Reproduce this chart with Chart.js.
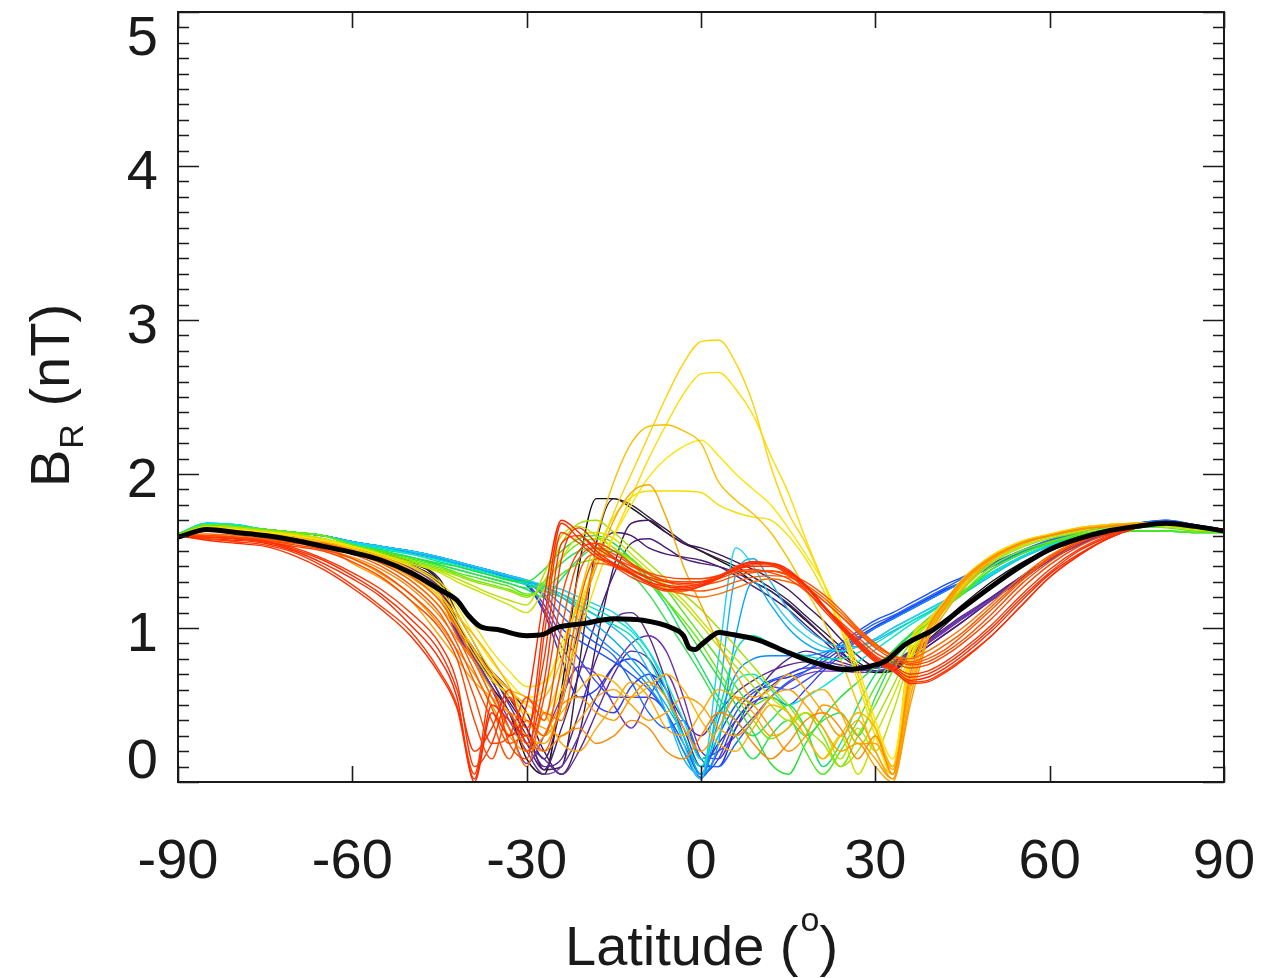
<!DOCTYPE html>
<html>
<head>
<meta charset="utf-8">
<script src="https://cdn.jsdelivr.net/npm/chart.js@4.4.1/dist/chart.umd.min.js"></script>
<style>
html, body { margin: 0; padding: 0; background: #fff; }
</style>
</head>
<body>
<canvas id="chart" width="1278" height="978"></canvas>
<script>
// latitude grid shared by all the coloured profiles
var lats = [-90,-85,-80,-75,-70,-65,-60,-55,-50,-45,-42,-39,-36,-33,-30,-27,-24,-21,-18,-15,-12,-9,-6,-3,0,3,6,9,12,15,18,21,24,27,30,33,36,39,42,45,50,55,60,65,70,75,80,85,90];

// individual B_R profiles (nT), oldest (black) to newest (red)
var k1 = [1.60,1.65,1.64,1.62,1.60,1.57, 1.53,1.49,1.43,1.30,1.05,0.82,0.62,0.45,0.15,0.05, 0.60,1.40,1.84,1.84,1.78,1.70,1.62,1.55,1.50,1.44, 1.38,1.30,1.24,1.15,1.05,0.95,0.85,0.75,0.71,0.72, 0.85,0.95,1.05,1.15, 1.30,1.42,1.51,1.58,1.63,1.66,1.68,1.66,1.63];
var k2 = [1.60,1.65,1.64,1.62,1.60,1.57, 1.53,1.48,1.42,1.32,1.10,0.90,0.70,0.55,0.35,0.08, 0.10,0.75,1.55,1.84,1.80,1.72,1.64,1.56,1.50,1.45, 1.40,1.33,1.26,1.18,1.08,0.98,0.88,0.78,0.72,0.72, 0.82,0.92,1.02,1.12, 1.28,1.40,1.50,1.57,1.62,1.66,1.68,1.66,1.63];
var p1 = [1.60,1.65,1.64,1.62,1.60,1.57, 1.53,1.48,1.41,1.28,1.00,0.85,0.72,0.60,0.45,0.20, 0.05,0.30,0.90,1.40,1.68,1.70,1.62,1.55,1.52,1.48, 1.43,1.38,1.32,1.25,1.15,1.05,0.93,0.82,0.75,0.75, 0.82,0.90,0.98,1.06, 1.20,1.33,1.45,1.55,1.61,1.65,1.68,1.66,1.64];
var p7 = [1.60,1.65,1.64,1.62,1.60,1.57, 1.53,1.48,1.41,1.28,1.04,0.86,0.70,0.52,0.35,0.15, 0.50,1.00,1.45,1.62,1.60,1.52,1.48,1.46,1.44,1.40, 1.34,1.27,1.20,1.12,1.02,0.92,0.82,0.75,0.72,0.73, 0.80,0.88,0.96,1.04, 1.18,1.31,1.44,1.54,1.61,1.65,1.68,1.66,1.64];
var p4 = [1.60,1.65,1.64,1.62,1.60,1.57, 1.53,1.48,1.41,1.27,1.02,0.84,0.66,0.45,0.25,0.08, 0.35,0.70,1.05,1.35,1.55,1.58,1.52,1.45,1.42,1.40, 1.36,1.30,1.24,1.16,1.06,0.95,0.84,0.76,0.72,0.73, 0.80,0.88,0.96,1.04, 1.18,1.31,1.44,1.54,1.61,1.65,1.68,1.66,1.64];
var p2 = [1.60,1.65,1.64,1.62,1.60,1.57, 1.52,1.47,1.40,1.26,0.98,0.82,0.70,0.50,0.30,0.10, 0.15,0.45,0.80,1.05,1.10,0.95,0.65,0.30,0.10,0.25, 0.40,0.55,0.70,0.80,0.85,0.82,0.78,0.75,0.75,0.78, 0.85,0.92,1.00,1.08, 1.20,1.33,1.45,1.55,1.61,1.65,1.68,1.66,1.64];
var p5 = [1.60,1.65,1.64,1.62,1.60,1.57, 1.52,1.46,1.39,1.25,0.97,0.81,0.66,0.45,0.25,0.15, 0.05,0.20,0.45,0.70,0.85,0.80,0.60,0.40,0.30,0.45, 0.58,0.66,0.72,0.76,0.78,0.78,0.76,0.74,0.74,0.77, 0.84,0.91,0.99,1.07, 1.19,1.32,1.45,1.55,1.61,1.65,1.68,1.66,1.64];
var p3 = [1.60,1.65,1.64,1.62,1.60,1.57, 1.52,1.46,1.39,1.24,0.96,0.80,0.62,0.40,0.20,0.05, 0.10,0.30,0.55,0.75,0.90,0.95,0.85,0.55,0.20,0.15, 0.35,0.50,0.62,0.70,0.74,0.74,0.72,0.72,0.74,0.76, 0.84,0.91,0.99,1.07, 1.19,1.32,1.45,1.55,1.61,1.65,1.68,1.66,1.64];
var p6 = [1.60,1.65,1.64,1.62,1.60,1.57, 1.52,1.46,1.39,1.24,0.95,0.78,0.60,0.35,0.12,0.30, 0.55,0.75,0.70,0.50,0.35,0.55,0.70,0.45,0.15,0.20, 0.30,0.42,0.55,0.64,0.70,0.72,0.72,0.71,0.72,0.75, 0.83,0.90,0.98,1.06, 1.18,1.31,1.44,1.54,1.61,1.65,1.68,1.66,1.64];
var b5 = [1.61,1.67,1.66,1.64,1.62,1.60, 1.56,1.53,1.49,1.45,1.42,1.39,1.36,1.33,1.28,1.12, 0.88,0.70,0.50,0.45,0.62,0.70,0.60,0.30,0.05,0.15, 0.40,0.52,0.55,0.50,0.60,0.72,0.82,0.92,1.00,1.06, 1.12,1.18,1.24,1.30, 1.40,1.49,1.56,1.62,1.66,1.68,1.69,1.67,1.64];
var b3 = [1.61,1.67,1.66,1.64,1.62,1.60, 1.56,1.53,1.50,1.46,1.43,1.40,1.37,1.33,1.29,1.15, 0.95,0.80,0.65,0.55,0.55,0.55,0.45,0.20,0.03,0.20, 0.45,0.58,0.62,0.60,0.66,0.74,0.84,0.93,1.00,1.06, 1.12,1.18,1.24,1.30, 1.40,1.49,1.56,1.62,1.66,1.68,1.69,1.67,1.64];
var b2 = [1.61,1.67,1.66,1.64,1.62,1.60, 1.56,1.52,1.49,1.45,1.42,1.39,1.36,1.32,1.28,1.10, 0.80,0.55,0.60,0.75,0.80,0.72,0.55,0.35,0.10,0.10, 0.35,0.55,0.65,0.68,0.72,0.78,0.86,0.94,1.01,1.07, 1.13,1.19,1.25,1.30, 1.40,1.49,1.56,1.62,1.66,1.68,1.69,1.67,1.64];
var b1 = [1.61,1.67,1.66,1.64,1.62,1.60, 1.56,1.53,1.50,1.46,1.43,1.40,1.37,1.34,1.30,1.20, 1.00,0.92,0.85,0.78,0.70,0.60,0.45,0.25,0.05,0.30, 0.50,0.60,0.66,0.70,0.75,0.82,0.90,0.98,1.05,1.10, 1.16,1.22,1.28,1.33, 1.42,1.50,1.57,1.62,1.66,1.68,1.70,1.67,1.64];
var b6 = [1.61,1.67,1.66,1.64,1.62,1.60, 1.56,1.53,1.50,1.46,1.43,1.40,1.37,1.34,1.30,1.22, 1.08,0.98,0.90,0.82,0.65,0.45,0.35,0.40,0.15,0.10, 0.25,0.40,0.55,0.65,0.72,0.80,0.88,0.96,1.03,1.08, 1.14,1.20,1.26,1.32, 1.41,1.50,1.57,1.62,1.66,1.68,1.70,1.67,1.64];
var b4 = [1.61,1.67,1.66,1.64,1.62,1.60, 1.56,1.53,1.50,1.46,1.43,1.40,1.37,1.34,1.31,1.25, 1.15,1.05,0.95,0.85,0.75,0.62,0.45,0.20,0.02,0.40, 0.70,0.80,0.82,0.82,0.82,0.84,0.88,0.94,1.00,1.06, 1.12,1.18,1.24,1.30, 1.40,1.49,1.56,1.62,1.66,1.68,1.69,1.67,1.64];
var c3 = [1.61,1.67,1.66,1.64,1.62,1.60, 1.56,1.53,1.50,1.46,1.43,1.40,1.37,1.34,1.31,1.27, 1.20,1.12,1.02,0.92,0.80,0.66,0.50,0.30,0.05,0.25, 0.95,1.30,1.15,1.00,0.90,0.85,0.85,0.88,0.93,1.00, 1.06,1.12,1.18,1.24, 1.36,1.46,1.54,1.60,1.64,1.66,1.67,1.65,1.64];
var c2 = [1.61,1.68,1.67,1.64,1.62,1.60, 1.55,1.52,1.49,1.45,1.42,1.39,1.36,1.33,1.30,1.27, 1.22,1.15,1.08,1.00,0.90,0.72,0.45,0.15,0.05,0.55, 1.35,1.45,1.30,1.12,1.00,0.92,0.88,0.88,0.92,0.98, 1.04,1.10,1.16,1.22, 1.34,1.45,1.53,1.59,1.63,1.65,1.66,1.65,1.64];
var c1 = [1.61,1.68,1.67,1.64,1.62,1.60, 1.56,1.53,1.50,1.46,1.43,1.40,1.37,1.34,1.31,1.28, 1.25,1.20,1.15,1.10,1.00,0.85,0.60,0.25,0.02,0.80, 1.52,1.40,1.20,1.05,0.95,0.88,0.85,0.88,0.93,1.00, 1.06,1.12,1.18,1.24, 1.36,1.46,1.54,1.60,1.64,1.66,1.67,1.65,1.64];
var t1 = [1.61,1.68,1.67,1.64,1.62,1.60, 1.55,1.51,1.48,1.43,1.40,1.37,1.34,1.31,1.28,1.24, 1.20,1.14,1.08,1.02,0.95,0.80,0.55,0.30,0.10,0.45, 0.85,0.95,0.90,0.85,0.82,0.80,0.80,0.84,0.90,0.97, 1.04,1.10,1.17,1.23, 1.35,1.46,1.54,1.60,1.63,1.65,1.66,1.65,1.64];
var t2 = [1.61,1.68,1.67,1.64,1.62,1.60, 1.55,1.52,1.48,1.44,1.41,1.38,1.35,1.32,1.29,1.26, 1.22,1.17,1.12,1.06,0.98,0.85,0.65,0.40,0.15,0.30, 0.65,0.70,0.60,0.50,0.55,0.62,0.70,0.78,0.86,0.94, 1.02,1.09,1.16,1.23, 1.35,1.46,1.54,1.60,1.63,1.65,1.66,1.65,1.64];
var g2 = [1.61,1.67,1.66,1.64,1.62,1.60, 1.54,1.50,1.46,1.41,1.38,1.35,1.32,1.29,1.25,1.20, 1.32,1.45,1.52,1.50,1.42,1.30,1.15,0.95,0.75,0.55, 0.40,0.30,0.40,0.50,0.35,0.10,0.25,0.50,0.70,0.85, 0.96,1.06,1.15,1.23, 1.38,1.48,1.55,1.60,1.62,1.63,1.63,1.62,1.62];
var g1 = [1.61,1.67,1.66,1.64,1.62,1.60, 1.54,1.50,1.46,1.42,1.40,1.37,1.34,1.31,1.30,1.38, 1.50,1.58,1.60,1.55,1.45,1.32,1.18,1.02,0.85,0.68, 0.50,0.32,0.12,0.05,0.25,0.42,0.55,0.65,0.75,0.85, 0.95,1.05,1.14,1.22, 1.38,1.48,1.55,1.60,1.62,1.63,1.63,1.62,1.62];
var g4 = [1.61,1.67,1.66,1.64,1.62,1.60, 1.54,1.50,1.46,1.41,1.38,1.35,1.32,1.29,1.26,1.30, 1.42,1.50,1.52,1.45,1.35,1.22,1.05,0.88,0.70,0.50, 0.30,0.15,0.30,0.40,0.30,0.40,0.45,0.30,0.55,0.78, 0.92,1.03,1.13,1.22, 1.38,1.48,1.55,1.60,1.62,1.63,1.63,1.62,1.62];
var g3 = [1.61,1.67,1.66,1.64,1.62,1.60, 1.54,1.50,1.45,1.40,1.36,1.33,1.30,1.27,1.22,1.25, 1.35,1.42,1.45,1.50,1.45,1.35,1.25,1.10,0.95,0.80, 0.62,0.50,0.55,0.45,0.20,0.05,0.20,0.40,0.62,0.80, 0.93,1.04,1.14,1.22, 1.38,1.48,1.55,1.60,1.62,1.63,1.63,1.62,1.62];
var g5 = [1.61,1.67,1.66,1.64,1.62,1.60, 1.54,1.49,1.44,1.39,1.35,1.31,1.28,1.25,1.21,1.28, 1.45,1.55,1.58,1.52,1.42,1.30,1.18,1.05,0.90,0.72, 0.55,0.40,0.28,0.35,0.45,0.30,0.10,0.30,0.50,0.72, 0.90,1.02,1.13,1.23, 1.40,1.50,1.56,1.61,1.64,1.66,1.65,1.63,1.62];
var y1 = [1.60,1.66,1.65,1.63,1.61,1.58, 1.53,1.48,1.43,1.38,1.34,1.30,1.27,1.24,1.20,1.30, 1.55,1.68,1.70,1.62,1.52,1.42,1.32,1.22,1.12,1.00, 0.88,0.75,0.62,0.50,0.35,0.25,0.10,0.20,0.40,0.62, 0.85,1.00,1.12,1.25, 1.42,1.52,1.58,1.62,1.65,1.67,1.66,1.64,1.63];
var y3 = [1.60,1.66,1.65,1.63,1.61,1.58, 1.53,1.48,1.42,1.37,1.32,1.27,1.22,1.18,1.15,1.35, 1.60,1.66,1.60,1.52,1.44,1.36,1.26,1.15,1.02,0.88, 0.75,0.62,0.50,0.40,0.45,0.35,0.15,0.35,0.20,0.45, 0.80,0.98,1.12,1.26, 1.43,1.53,1.59,1.63,1.66,1.67,1.66,1.64,1.63];
var y2 = [1.60,1.66,1.65,1.63,1.61,1.58, 1.53,1.48,1.42,1.36,1.30,1.25,1.20,1.15,1.10,1.25, 1.45,1.60,1.62,1.58,1.48,1.38,1.28,1.18,1.05,0.92, 0.80,0.68,0.55,0.45,0.30,0.15,0.30,0.05,0.30,0.55, 0.82,1.00,1.14,1.27, 1.44,1.54,1.60,1.63,1.66,1.67,1.66,1.64,1.63];
var yf = [1.60,1.65,1.64,1.62,1.60,1.57, 1.53,1.48,1.41,1.30,1.18,1.02,0.85,0.72,0.62,0.65, 0.85,1.20,1.50,1.72,1.85,1.89,1.89,1.89,1.88,1.80, 1.75,1.72,1.70,1.60,1.45,1.25,1.00,0.70,0.35,0.10, 0.88,1.04,1.17,1.31, 1.47,1.56,1.61,1.65,1.67,1.68,1.68,1.66,1.64];
var ya = [1.60,1.65,1.64,1.62,1.60,1.57, 1.52,1.46,1.38,1.25,1.10,0.90,0.72,0.60,0.50,0.45, 0.70,1.10,1.45,1.75,2.00,2.25,2.50,2.72,2.86,2.87, 2.72,2.45,2.05,1.75,1.55,1.30,1.05,0.70,0.35,0.10, 0.90,1.05,1.18,1.32, 1.47,1.56,1.61,1.65,1.67,1.68,1.68,1.66,1.64];
var yb = [1.60,1.65,1.64,1.62,1.60,1.57, 1.52,1.45,1.36,1.22,1.05,0.85,0.68,0.55,0.45,0.40, 0.60,0.95,1.30,1.60,1.85,2.10,2.32,2.52,2.65,2.66, 2.55,2.38,2.12,1.88,1.58,1.30,1.00,0.65,0.30,0.05, 0.85,1.02,1.16,1.30, 1.46,1.55,1.60,1.65,1.67,1.68,1.68,1.66,1.64];
var yd = [1.60,1.65,1.64,1.62,1.60,1.57, 1.53,1.47,1.40,1.28,1.14,0.95,0.78,0.65,0.55,0.60, 0.90,1.15,1.40,1.60,1.80,1.98,2.10,2.18,2.22,2.12, 2.00,1.90,1.80,1.65,1.48,1.30,1.05,0.75,0.40,0.15, 0.80,1.00,1.15,1.29, 1.46,1.55,1.60,1.65,1.67,1.68,1.68,1.66,1.64];
var yc = [1.60,1.64,1.63,1.61,1.59,1.56, 1.51,1.44,1.35,1.20,1.02,0.82,0.66,0.58,0.52,0.55, 0.80,1.20,1.60,1.95,2.20,2.31,2.32,2.28,2.20,1.95, 1.83,1.74,1.62,1.45,1.25,1.05,0.80,0.50,0.20,0.05, 0.75,0.98,1.14,1.28, 1.45,1.55,1.60,1.65,1.67,1.68,1.68,1.66,1.64];
var ye = [1.60,1.64,1.63,1.61,1.58,1.55, 1.50,1.43,1.33,1.18,1.00,0.78,0.60,0.45,0.30,0.25, 0.50,1.05,1.40,1.70,1.88,1.93,1.72,1.40,1.15,0.90, 0.70,0.55,0.60,0.70,0.60,0.45,0.30,0.40,0.20,0.02, 0.60,0.92,1.10,1.25, 1.44,1.54,1.60,1.64,1.66,1.68,1.68,1.66,1.64];
var o3 = [1.60,1.64,1.63,1.61,1.58,1.55, 1.51,1.46,1.38,1.22,1.08,0.95,0.80,0.62,0.40,0.30, 0.45,0.60,0.70,0.65,0.55,0.62,0.70,0.60,0.40,0.25, 0.20,0.35,0.50,0.45,0.30,0.15,0.30,0.45,0.35,0.10, 0.62,0.98,1.16,1.30, 1.45,1.55,1.60,1.64,1.66,1.67,1.67,1.65,1.63];
var o5 = [1.60,1.64,1.63,1.61,1.58,1.55, 1.49,1.42,1.31,1.14,1.00,0.86,0.70,0.60,0.55,0.45, 0.25,0.20,0.35,0.50,0.65,0.55,0.35,0.30,0.45,0.60, 0.55,0.45,0.30,0.35,0.55,0.60,0.45,0.25,0.25,0.08, 0.66,0.99,1.16,1.30, 1.45,1.55,1.60,1.64,1.66,1.67,1.67,1.65,1.63];
var o1 = [1.60,1.64,1.63,1.61,1.58,1.54, 1.42,1.32,1.18,0.95,0.80,0.65,0.55,0.45,0.40,0.35, 0.30,0.40,0.55,0.60,0.50,0.40,0.45,0.55,0.50,0.35, 0.30,0.40,0.55,0.60,0.50,0.35,0.20,0.25,0.10,0.00, 0.55,0.95,1.15,1.30, 1.45,1.55,1.60,1.64,1.66,1.67,1.67,1.65,1.63];
var o4 = [1.60,1.63,1.62,1.60,1.57,1.53, 1.45,1.35,1.22,1.02,0.86,0.70,0.50,0.30,0.20,0.30, 0.50,0.55,0.45,0.40,0.55,0.65,0.55,0.35,0.20,0.35, 0.55,0.50,0.35,0.20,0.30,0.50,0.45,0.30,0.15,0.02, 0.50,0.92,1.13,1.29, 1.45,1.55,1.60,1.64,1.66,1.67,1.67,1.65,1.63];
var o2 = [1.60,1.63,1.62,1.60,1.56,1.51, 1.46,1.38,1.26,1.08,0.93,0.78,0.55,0.35,0.25,0.20, 0.30,0.35,0.25,0.30,0.40,0.35,0.20,0.15,0.30,0.45, 0.40,0.25,0.15,0.25,0.40,0.45,0.35,0.15,0.30,0.05, 0.70,1.00,1.17,1.31, 1.46,1.55,1.60,1.64,1.66,1.67,1.67,1.65,1.63];
var r5 = [1.60,1.61,1.60,1.58,1.56,1.55, 1.50,1.44,1.34,1.18,1.00,0.78,0.55,0.35,0.10,0.45, 0.40,0.95,1.42,1.40,1.35,1.30,1.25,1.22,1.20,1.22, 1.26,1.30,1.32,1.30,1.26,1.18,1.08,0.98,0.88,0.82, 0.80,0.85,0.92,1.00, 1.16,1.33,1.47,1.57,1.63,1.67,1.68,1.66,1.64];
var r9 = [1.60,1.60,1.59,1.58,1.56,1.54, 1.49,1.42,1.31,1.14,0.95,0.72,0.48,0.25,0.30,0.20, 0.55,1.15,1.45,1.42,1.37,1.32,1.27,1.25,1.24,1.26, 1.30,1.33,1.34,1.33,1.28,1.20,1.10,0.99,0.89,0.82, 0.78,0.82,0.89,0.97, 1.14,1.31,1.46,1.56,1.62,1.66,1.68,1.66,1.64];
var r4 = [1.60,1.60,1.59,1.57,1.55,1.53, 1.48,1.40,1.28,1.10,0.90,0.65,0.40,0.15,0.40,0.30, 0.75,1.35,1.48,1.45,1.40,1.35,1.30,1.28,1.28,1.30, 1.34,1.36,1.37,1.35,1.30,1.22,1.12,1.00,0.90,0.82, 0.77,0.80,0.86,0.95, 1.12,1.30,1.45,1.56,1.62,1.66,1.68,1.66,1.64];
var r8 = [1.60,1.60,1.59,1.57,1.54,1.51, 1.45,1.36,1.22,1.04,0.85,0.55,0.25,0.30,0.55,0.40, 1.00,1.45,1.52,1.48,1.41,1.35,1.31,1.30,1.30,1.32, 1.36,1.37,1.37,1.34,1.27,1.18,1.08,0.97,0.87,0.80, 0.76,0.78,0.84,0.92, 1.09,1.28,1.43,1.55,1.62,1.66,1.68,1.66,1.64];
var r3 = [1.60,1.59,1.58,1.56,1.53,1.50, 1.43,1.33,1.18,1.00,0.80,0.40,0.15,0.45,0.20,0.55, 1.20,1.50,1.55,1.50,1.42,1.36,1.33,1.32,1.32,1.34, 1.37,1.38,1.36,1.32,1.24,1.14,1.04,0.94,0.84,0.78, 0.74,0.76,0.82,0.90, 1.06,1.25,1.41,1.53,1.61,1.66,1.68,1.66,1.64];
var r2 = [1.60,1.59,1.58,1.56,1.52,1.45, 1.36,1.25,1.10,0.90,0.65,0.10,0.25,0.55,0.35,0.80, 1.55,1.60,1.52,1.45,1.38,1.33,1.30,1.29,1.30,1.34, 1.38,1.40,1.40,1.36,1.27,1.15,1.03,0.92,0.82,0.76, 0.70,0.72,0.78,0.86, 1.02,1.21,1.38,1.51,1.60,1.66,1.68,1.66,1.64];
var r7 = [1.60,1.59,1.58,1.56,1.51,1.44, 1.34,1.22,1.06,0.85,0.60,0.20,0.35,0.60,0.25,0.65, 1.45,1.65,1.55,1.46,1.38,1.32,1.28,1.27,1.29,1.33, 1.38,1.41,1.41,1.37,1.28,1.15,1.03,0.91,0.81,0.75, 0.68,0.70,0.76,0.84, 1.00,1.19,1.36,1.50,1.59,1.66,1.68,1.66,1.64];
var r1 = [1.60,1.58,1.57,1.55,1.50,1.42, 1.32,1.20,1.02,0.80,0.55,0.00,0.45,0.30,0.50,1.20, 1.70,1.62,1.50,1.42,1.36,1.30,1.27,1.26,1.28,1.33, 1.38,1.42,1.42,1.38,1.28,1.15,1.02,0.90,0.80,0.74, 0.66,0.68,0.74,0.82, 0.98,1.17,1.35,1.48,1.58,1.65,1.68,1.66,1.64];
var r6 = [1.60,1.58,1.56,1.54,1.49,1.40, 1.28,1.14,0.98,0.72,0.50,0.05,0.60,0.25,0.15,0.95, 1.62,1.55,1.46,1.40,1.33,1.28,1.24,1.24,1.27,1.33, 1.40,1.43,1.41,1.35,1.25,1.12,1.00,0.88,0.78,0.72, 0.65,0.66,0.72,0.80, 0.95,1.14,1.33,1.47,1.58,1.65,1.68,1.66,1.64];
var r10 = [1.60,1.57,1.55,1.53,1.47,1.38, 1.26,1.12,0.95,0.70,0.48,0.02,0.50,0.40,0.30,1.05, 1.68,1.58,1.48,1.41,1.35,1.29,1.25,1.25,1.27,1.32, 1.39,1.43,1.42,1.37,1.27,1.14,1.01,0.89,0.79,0.73, 0.64,0.65,0.71,0.79, 0.95,1.14,1.33,1.47,1.58,1.65,1.68,1.66,1.64];

// thick black average profile
var meanLat = [-90,-85,-80,-75,-70,-65,-60,-55,-50,-45,-42,-40,-38,-35,-30,-27,-25,-20,-15,-10,-5,-3,-2,-1,0,2,3,5,10,15,20,25,30,32,35,40,45,50,55,60,65,70,75,80,85,90];
var meanVal = [1.59,1.64,1.62,1.60,1.57,1.53,1.49,1.44,1.36,1.25,1.18,1.08,1.01,0.99,0.95,0.96,1.00,1.03,1.06,1.05,1.00,0.95,0.87,0.86,0.89,0.95,0.97,0.96,0.92,0.84,0.77,0.73,0.76,0.79,0.89,0.99,1.13,1.27,1.40,1.51,1.58,1.63,1.66,1.68,1.66,1.63];

var xTicks = [-90,-60,-30,0,30,60,90];
var yTicks = [0,1,2,3,4,5];

var profiles = [
	[k1, '#111111'], [k2, '#35203f'], [p1, '#3f1760'], [p7, '#48196e'], [p4, '#4b1f78'], [p2, '#552886'],
	[p5, '#5e2c98'], [p3, '#6a34ad'], [p6, '#7038b8'],
	[b5, '#3040f0'], [b3, '#3848f0'], [b2, '#2430e8'], [b1, '#1c50f8'], [b6, '#2064ff'], [b4, '#0a8cff'],
	[c3, '#00a8f8'], [c2, '#18b4f0'], [c1, '#20d0f0'], [t1, '#00e0b0'], [t2, '#00e8d0'],
	[g2, '#10e070'], [g1, '#20e030'], [g4, '#30e050'], [g3, '#50e81c'], [g5, '#70e810'],
	[y1, '#a0e000'], [y3, '#b8e000'], [y2, '#c8e400'],
	[yf, '#f0e000'], [ya, '#ffd200'], [yb, '#ffdc00'], [yd, '#ffe400'], [yc, '#f8c000'], [ye, '#f8a800'],
	[o3, '#ffb400'], [o5, '#ffa800'], [o1, '#ffa000'], [o4, '#ff9800'], [o2, '#ff8800'],
	[r5, '#ff6c00'], [r9, '#ff5c00'], [r4, '#ff5400'], [r8, '#ff4800'], [r3, '#ff4400'],
	[r2, '#ff3400'], [r7, '#ff3000'], [r1, '#ff2600'], [r6, '#ff3c00'], [r10, '#ff2c00']
];

var datasets = [];
datasets.push({
	data: meanLat.map(function(x, i){ return {x: x, y: meanVal[i]}; }),
	borderColor: '#000', borderWidth: 5, pointRadius: 0, fill: false,
	cubicInterpolationMode: 'monotone', order: 0
});
profiles.forEach(function(p, i){
	datasets.push({
		data: lats.map(function(x, j){ return {x: x, y: p[0][j]}; }),
		borderColor: p[1], borderWidth: 1.4, pointRadius: 0, fill: false,
		cubicInterpolationMode: 'monotone', order: profiles.length - i
	});
});

var FONT = '"Liberation Sans", Arial, Helvetica, sans-serif';
var INK = '#1a1a1a';

// IDL style frame: inward ticks on all four sides, labels, titles
var idlAxes = {
	id: 'idlAxes',
	afterDraw: function(chart){
		var ctx = chart.ctx, a = chart.chartArea;
		var xs = chart.scales.x, ys = chart.scales.y;
		ctx.save();
		ctx.strokeStyle = INK;
		ctx.lineWidth = 2;
		ctx.strokeRect(a.left, a.top, a.right - a.left, a.bottom - a.top);

		ctx.lineWidth = 1.6;
		ctx.beginPath();
		for (var i = 0; i <= 50; i++) {
			var py = Math.round(ys.getPixelForValue(i / 10)) + 0.5;
			var len = (i % 10 === 0) ? 21 : 11;
			ctx.moveTo(a.left, py); ctx.lineTo(a.left + len, py);
			ctx.moveTo(a.right, py); ctx.lineTo(a.right - len, py);
		}
		xTicks.forEach(function(v){
			var px = Math.round(xs.getPixelForValue(v)) + 0.5;
			ctx.moveTo(px, a.bottom); ctx.lineTo(px, a.bottom - 16);
			ctx.moveTo(px, a.top); ctx.lineTo(px, a.top + 16);
		});
		ctx.stroke();

		ctx.fillStyle = INK;
		ctx.font = '56px ' + FONT;
		ctx.textAlign = 'center';
		ctx.textBaseline = 'middle';
		xTicks.forEach(function(v){
			ctx.fillText(String(v), xs.getPixelForValue(v), 863);
		});
		ctx.textAlign = 'right';
		yTicks.forEach(function(v){
			var off = 8;
			if (v === yTicks[0]) off = -19;
			if (v === yTicks[yTicks.length - 1]) off = 28;
			ctx.fillText(String(v), 158, ys.getPixelForValue(v) + off);
		});

		// x title: Latitude (°) with superscript o
		ctx.textAlign = 'left';
		ctx.textBaseline = 'alphabetic';
		var tx = 565, ty = 965;
		var s1 = 'Latitude (';
		ctx.fillText(s1, tx, ty);
		tx += ctx.measureText(s1).width + 2;
		ctx.font = '34px ' + FONT;
		ctx.fillText('o', tx, ty - 34);
		tx += ctx.measureText('o').width;
		ctx.font = '56px ' + FONT;
		ctx.fillText(')', tx, ty);

		// y title: B_R (nT), rotated
		ctx.translate(69, 487);
		ctx.rotate(-Math.PI / 2);
		var sx = 0;
		ctx.fillText('B', sx, 0);
		sx += ctx.measureText('B').width + 1;
		ctx.font = '34px ' + FONT;
		ctx.fillText('R', sx, 14);
		sx += ctx.measureText('R').width + 2;
		ctx.font = '56px ' + FONT;
		ctx.fillText(' (nT)', sx, 0);
		ctx.restore();
	}
};

new Chart(document.getElementById('chart'), {
	type: 'line',
	data: { datasets: datasets },
	options: {
		responsive: false,
		animation: false,
		events: [],
		layout: { padding: { top: 12, right: 54, left: 0, bottom: 0 } },
		plugins: { legend: { display: false }, tooltip: { enabled: false } },
		scales: {
			x: {
				type: 'linear', min: -90, max: 90,
				grid: { display: false }, border: { display: false },
				ticks: { display: false },
				afterFit: function(s){ s.height = 196; }
			},
			y: {
				min: 0, max: 5,
				grid: { display: false }, border: { display: false },
				ticks: { display: false },
				afterFit: function(s){ s.width = 178; }
			}
		}
	},
	plugins: [idlAxes]
});
</script>
</body>
</html>
